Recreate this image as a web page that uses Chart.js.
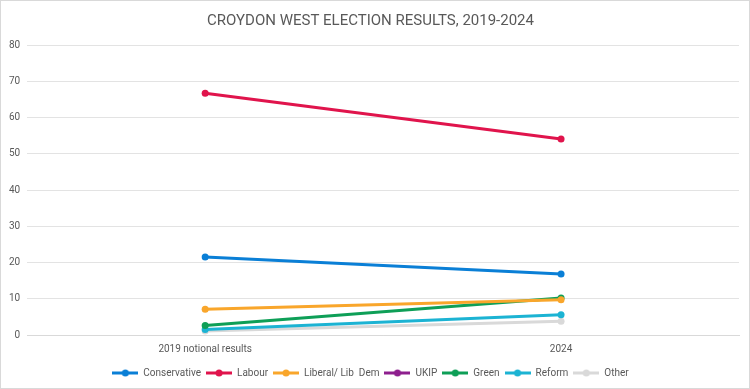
<!DOCTYPE html>
<html>
<head>
<meta charset="utf-8">
<script src="https://cdn.jsdelivr.net/npm/chart.js@4.4.1/dist/chart.umd.min.js"></script>
<style>
html,body{margin:0;padding:0;background:#fff;}
#wrap{position:relative;width:750px;height:389px;box-sizing:border-box;border:1px solid #d9d9d9;}
canvas{display:block;}
</style>
</head>
<body>
<div id="wrap"><canvas id="c" width="748" height="387"></canvas></div>
<script>
const categories = ["2019 notional results", "2024"];
const conservative = [21.5, 16.8];
const labour = [66.7, 54.1];
const libDem = [7.1, 9.7];
const ukip = [null, null];
const green = [2.6, 10.2];
const reform = [1.5, 5.6];
const other = [1.1, 3.8];
const yTicks = [0, 10, 20, 30, 40, 50, 60, 70, 80];

const seriesNames = ["Conservative", "Labour", "Liberal/ Lib  Dem", "UKIP", "Green", "Reform", "Other"];
const seriesData = [conservative, labour, libDem, ukip, green, reform, other];
const seriesColors = ["#0A7FD6", "#E0144C", "#F9A62B", "#8E1F8E", "#0E9F57", "#1CB3D3", "#D9D9D9"];

function legendIcon(color) {
  const c = document.createElement('canvas');
  c.width = 26; c.height = 8;
  const g = c.getContext('2d');
  g.strokeStyle = color; g.lineWidth = 3;
  g.beginPath(); g.moveTo(0, 4); g.lineTo(26, 4); g.stroke();
  g.fillStyle = color;
  g.beginPath(); g.arc(13, 4, 3.5, 0, Math.PI * 2); g.fill();
  return c;
}

const datasets = seriesNames.map((n, i) => ({
  label: n,
  data: seriesData[i],
  borderColor: seriesColors[i],
  backgroundColor: seriesColors[i],
  borderWidth: 3,
  pointRadius: 3.5,
  pointHoverRadius: 3.5,
  pointBorderWidth: 0,
  tension: 0
}));

new Chart(document.getElementById('c'), {
  type: 'line',
  data: { labels: categories, datasets: datasets },
  options: {
    responsive: false,
    animation: false,
    layout: { padding: { left: 1, right: 10, top: 0, bottom: 0 } },
    plugins: {
      title: {
        display: true,
        text: 'CROYDON WEST ELECTION RESULTS, 2019-2024',
        color: '#595959',
        font: { family: 'Roboto', size: 15, weight: 'normal' },
        padding: { top: 11, bottom: 15 }
      },
      legend: {
        position: 'bottom',
        labels: {
          color: '#595959',
          font: { family: 'Roboto', size: 10 },
          usePointStyle: true,
          pointStyleWidth: 26,
          boxWidth: 26,
          boxHeight: 8,
          padding: 5,
          generateLabels: (chart) => chart.data.datasets.map((d, i) => ({
            text: d.label,
            pointStyle: legendIcon(d.borderColor),
            fillStyle: d.borderColor,
            strokeStyle: d.borderColor,
            fontColor: '#595959',
            lineWidth: 0,
            hidden: false,
            datasetIndex: i
          }))
        }
      },
      tooltip: { enabled: false }
    },
    scales: {
      x: {
        offset: true,
        grid: { display: false, drawTicks: false },
        border: { display: true, color: '#d9d9d9' },
        ticks: { color: '#595959', font: { family: 'Roboto', size: 10 }, padding: 8 }
      },
      y: {
        min: 0, max: 80,
        afterBuildTicks: (ax) => { ax.ticks = yTicks.map(v => ({ value: v })); },
        grid: { color: '#e3e3e3', drawTicks: false, lineWidth: 1 },
        border: { display: false },
        ticks: { color: '#595959', font: { family: 'Roboto', size: 10 }, padding: 7 }
      }
    }
  }
});
</script>
</body>
</html>
